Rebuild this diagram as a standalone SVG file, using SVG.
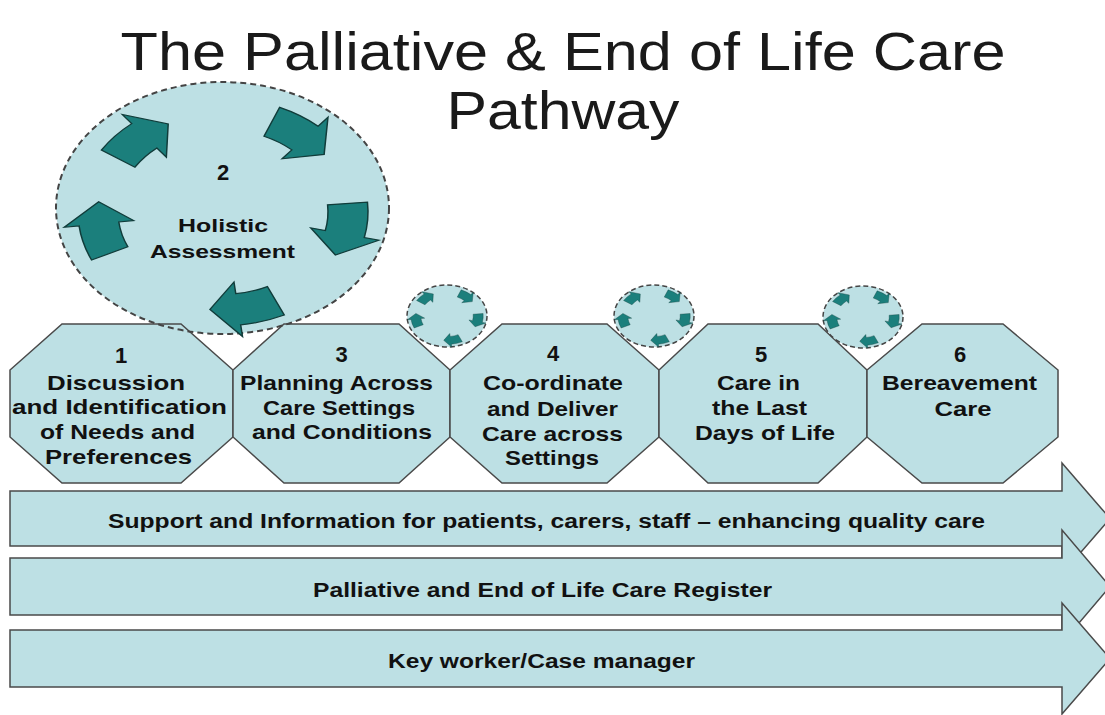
<svg xmlns="http://www.w3.org/2000/svg" xmlns:xlink="http://www.w3.org/1999/xlink" width="1105" height="715" viewBox="0 0 1105 715">
<style>
.fill{fill:#bde0e4}
.oct{fill:#bde0e4;stroke:#4a4a4a;stroke-width:1.5}
.band{fill:#bde0e4;stroke:#4a4a4a;stroke-width:1.5}
.dash{fill:none;stroke:#444;stroke-width:2;stroke-dasharray:6 4}
.cyc{fill:#1b7f7c;stroke:#113c3a;stroke-width:1.2}
.t{font-family:"Liberation Sans",Arial,sans-serif;font-weight:bold;fill:#111;text-anchor:middle}
.title{font-family:"Liberation Sans",Arial,sans-serif;font-size:53px;fill:#1a1a1a;text-anchor:middle}
</style>
<defs>
<path id="ca" d="M112.05,-30.02 A116,116 0 0 1 115.84,6.07 L127.82,6.70 L96.13,27.56 L71.90,3.77 L83.88,4.40 A84,84 0 0 0 81.14,-21.74 Z"/>
<g id="cycle">
<use xlink:href="#ca" class="cyc" transform="scale(1.25 0.98) rotate(-132)"/>
<use xlink:href="#ca" class="cyc" transform="scale(1.25 0.98) rotate(-52)"/>
<use xlink:href="#ca" class="cyc" transform="scale(1.25 0.98) rotate(10)"/>
<use xlink:href="#ca" class="cyc" transform="scale(1.25 0.98) rotate(80)"/>
<use xlink:href="#ca" class="cyc" transform="scale(1.25 0.98) rotate(170)"/>
</g>
</defs>
<rect width="1105" height="715" fill="#ffffff"/>

<g id="title">
<text class="title" x="563" y="70" textLength="885" lengthAdjust="spacingAndGlyphs">The Palliative &amp; End of Life Care</text>
<text class="title" x="563" y="129" textLength="233" lengthAdjust="spacingAndGlyphs">Pathway</text>
</g>

<g id="node2-fill">
<ellipse class="fill" cx="222.5" cy="208" rx="166.5" ry="126"/>
</g>

<g id="connectors">
<path id="band1" class="band" d="M10,491 H1062 V463 L1110,518.5 L1062,574 V546 H10 Z"/>
<path id="band2" class="band" d="M10,558 H1062 V530 L1110,586.5 L1062,643 V615 H10 Z"/>
<path id="band3" class="band" d="M10,630 H1062 V603 L1110,658.5 L1062,714 V687 H10 Z"/>
<text class="t" x="546.5" y="528" font-size="20" textLength="877" lengthAdjust="spacingAndGlyphs">Support and Information for patients, carers, staff – enhancing quality care</text>
<text class="t" x="542.5" y="597" font-size="20" textLength="459" lengthAdjust="spacingAndGlyphs">Palliative and End of Life Care Register</text>
<text class="t" x="541.5" y="668" font-size="20" textLength="307" lengthAdjust="spacingAndGlyphs">Key worker/Case manager</text>
</g>

<g id="node1">
<polygon class="oct" points="62,324 181,324 233,370 233,437 181,483 62,483 10,437 10,370"/>
<text class="t" x="121" y="363" font-size="22">1</text>
<text class="t" x="116" y="390" font-size="21" textLength="138" lengthAdjust="spacingAndGlyphs">Discussion</text>
<text class="t" x="119.5" y="414" font-size="21" textLength="215" lengthAdjust="spacingAndGlyphs">and Identification</text>
<text class="t" x="117.5" y="439" font-size="21" textLength="155" lengthAdjust="spacingAndGlyphs">of Needs and</text>
<text class="t" x="118.5" y="464" font-size="21" textLength="147" lengthAdjust="spacingAndGlyphs">Preferences</text>
</g>

<g id="node3">
<polygon class="oct" points="284,324 399,324 450,370 450,437 399,483 284,483 233,437 233,370"/>
<text class="t" x="341.5" y="362" font-size="22">3</text>
<text class="t" x="336.5" y="390" font-size="21" textLength="193" lengthAdjust="spacingAndGlyphs">Planning Across</text>
<text class="t" x="339" y="415" font-size="21" textLength="152" lengthAdjust="spacingAndGlyphs">Care Settings</text>
<text class="t" x="342" y="439" font-size="21" textLength="180" lengthAdjust="spacingAndGlyphs">and Conditions</text>
</g>

<g id="node4">
<polygon class="oct" points="502,324 607,324 659,370 659,437 607,483 502,483 450,437 450,370"/>
<text class="t" x="553" y="361" font-size="22">4</text>
<text class="t" x="553" y="390" font-size="21" textLength="140" lengthAdjust="spacingAndGlyphs">Co-ordinate</text>
<text class="t" x="552.5" y="416" font-size="21" textLength="131" lengthAdjust="spacingAndGlyphs">and Deliver</text>
<text class="t" x="552.5" y="441" font-size="21" textLength="141" lengthAdjust="spacingAndGlyphs">Care across</text>
<text class="t" x="552" y="465" font-size="21" textLength="94" lengthAdjust="spacingAndGlyphs">Settings</text>
</g>

<g id="node5">
<polygon class="oct" points="708,324 818,324 867,370 867,437 818,483 708,483 659,437 659,370"/>
<text class="t" x="761" y="362" font-size="22">5</text>
<text class="t" x="758.5" y="390" font-size="21" textLength="83" lengthAdjust="spacingAndGlyphs">Care in</text>
<text class="t" x="759.5" y="415" font-size="21" textLength="95" lengthAdjust="spacingAndGlyphs">the Last</text>
<text class="t" x="765" y="440" font-size="21" textLength="140" lengthAdjust="spacingAndGlyphs">Days of Life</text>
</g>

<g id="node6">
<polygon class="oct" points="922,324 1003,324 1058,370 1058,437 1003,483 922,483 867,437 867,370"/>
<text class="t" x="960" y="362" font-size="22">6</text>
<text class="t" x="959.5" y="390" font-size="21" textLength="155" lengthAdjust="spacingAndGlyphs">Bereavement</text>
<text class="t" x="963" y="416" font-size="21" textLength="57" lengthAdjust="spacingAndGlyphs">Care</text>
</g>

<g id="node2">
<ellipse class="dash" cx="222.5" cy="208" rx="166.5" ry="126"/>
<use xlink:href="#cycle" transform="translate(223 212)"/>
<text class="t" x="223" y="180" font-size="22">2</text>
<text class="t" x="223" y="232" font-size="19" textLength="90" lengthAdjust="spacingAndGlyphs">Holistic</text>
<text class="t" x="222.5" y="258" font-size="19" textLength="145" lengthAdjust="spacingAndGlyphs">Assessment</text>
</g>

<g id="cycle-a">
<ellipse class="fill" cx="447" cy="316" rx="40" ry="31"/>
<ellipse class="dash" cx="447" cy="316" rx="40" ry="31" style="stroke-width:1.5;stroke-dasharray:5 3"/>
<use xlink:href="#cycle" transform="translate(447 316) scale(0.25)"/>
</g>
<g id="cycle-b">
<ellipse class="fill" cx="654" cy="316" rx="40" ry="31"/>
<ellipse class="dash" cx="654" cy="316" rx="40" ry="31" style="stroke-width:1.5;stroke-dasharray:5 3"/>
<use xlink:href="#cycle" transform="translate(654 316) scale(0.25)"/>
</g>
<g id="cycle-c">
<ellipse class="fill" cx="863" cy="317" rx="40" ry="31"/>
<ellipse class="dash" cx="863" cy="317" rx="40" ry="31" style="stroke-width:1.5;stroke-dasharray:5 3"/>
<use xlink:href="#cycle" transform="translate(863 317) scale(0.25)"/>
</g>
</svg>
